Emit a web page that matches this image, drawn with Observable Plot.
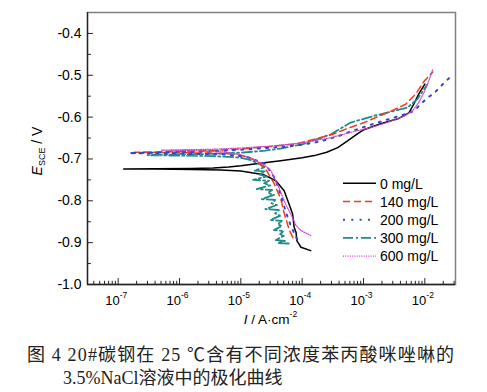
<!DOCTYPE html>
<html><head><meta charset="utf-8">
<script src="https://cdn.jsdelivr.net/npm/d3@7"></script>
<script src="https://cdn.jsdelivr.net/npm/@observablehq/plot@0.6"></script>
<style>
body{margin:0;background:#fff;}
#chart svg{display:block;}
#cap{font-family:"Liberation Serif","Noto Sans CJK SC",serif;font-size:18px;color:#222;line-height:23px;padding-top:8px;}
#cap .l1{padding-left:27px;letter-spacing:1.15px;white-space:nowrap;}
#cap .l2{padding-left:63px;white-space:nowrap;}
</style></head><body>
<div id="chart"></div>
<div id="cap"><div class="l1">图 4 20#碳钢在 25 ℃含有不同浓度苯丙酸咪唑啉的</div><div class="l2">3.5%NaCl溶液中的极化曲线</div></div>
<script>
// ---- data: log10(I / A·cm^-2) and E_SCE / V ----
const seriesNames = ["0 mg/L", "140 mg/L", "200 mg/L", "300 mg/L", "600 mg/L"];

const logI_0 = [-3.86,-4.02,-4.087,-4.10,-4.131,-4.145,-4.157,-4.213,-4.294,-4.43,-4.62,-5.0,-5.33,-5.8,-6.4,-6.91,-6.4,-5.8,-5.45,-5.2,-5.0,-4.62,-4.35,-4.0,-3.8,-3.6,-3.42,-3.26,-3.1,-2.995,-2.72,-2.44,-2.26,-2.18,-2.10,-2.0];
const E_0    = [-0.919,-0.911,-0.895,-0.875,-0.863,-0.845,-0.831,-0.808,-0.776,-0.752,-0.738,-0.729,-0.7265,-0.725,-0.7242,-0.724,-0.7236,-0.7228,-0.7215,-0.719,-0.716,-0.709,-0.704,-0.697,-0.692,-0.684,-0.673,-0.657,-0.640,-0.630,-0.616,-0.604,-0.590,-0.569,-0.545,-0.521];

const logI_140 = [-4.15,-4.21,-4.29,-4.35,-4.46,-4.62,-4.85,-5.1,-5.5,-6.0,-6.74,-6.0,-5.5,-5.0,-4.5,-4.1,-3.8,-3.5,-3.26,-2.99,-2.75,-2.555,-2.31,-2.15,-2.01,-1.87];
const E_140    = [-0.888,-0.870,-0.831,-0.795,-0.758,-0.718,-0.697,-0.688,-0.686,-0.685,-0.684,-0.682,-0.680,-0.676,-0.670,-0.664,-0.653,-0.641,-0.627,-0.613,-0.598,-0.586,-0.569,-0.545,-0.514,-0.492];

const logI_200 = [-4.08,-4.18,-4.27,-4.35,-4.45,-4.6,-4.9,-5.3,-6.0,-6.82,-6.0,-5.5,-5.0,-4.5,-4.0,-3.7,-3.4,-3.26,-3.0,-2.77,-2.5,-2.3,-2.175,-2.07,-1.95,-1.85,-1.74,-1.55];
const E_200    = [-0.892,-0.862,-0.825,-0.785,-0.745,-0.712,-0.695,-0.689,-0.687,-0.686,-0.684,-0.682,-0.678,-0.673,-0.666,-0.658,-0.645,-0.637,-0.624,-0.613,-0.601,-0.592,-0.585,-0.569,-0.553,-0.543,-0.526,-0.499];

const logI_300 = [-4.22,-4.40,-4.28,-4.44,-4.30,-4.36,-4.30,-4.46,-4.33,-4.40,-4.33,-4.52,-4.36,-4.44,-4.38,-4.60,-4.41,-4.50,-4.44,-4.66,-4.46,-4.56,-4.49,-4.74,-4.52,-4.62,-4.54,-4.80,-4.58,-4.70,-4.60,-4.78,-4.62,-4.70,-4.85,-5.0,-5.2,-5.5,-6.0,-6.52,-6.0,-5.5,-5.0,-4.6,-4.35,-4.0,-3.8,-3.53,-3.21,-2.83,-2.5,-2.28,-2.12,-1.96];
const E_300    = [-0.902,-0.901,-0.896,-0.894,-0.884,-0.880,-0.872,-0.870,-0.860,-0.856,-0.848,-0.846,-0.836,-0.830,-0.822,-0.820,-0.810,-0.806,-0.798,-0.796,-0.786,-0.781,-0.774,-0.772,-0.763,-0.758,-0.752,-0.750,-0.742,-0.737,-0.730,-0.728,-0.720,-0.712,-0.702,-0.697,-0.695,-0.693,-0.692,-0.691,-0.689,-0.688,-0.685,-0.680,-0.675,-0.665,-0.655,-0.641,-0.613,-0.597,-0.585,-0.577,-0.557,-0.522];

const logI_600 = [-3.86,-4.02,-4.10,-4.157,-4.27,-4.38,-4.51,-4.62,-4.8,-5.0,-5.3,-5.8,-6.30,-6.0,-5.5,-5.0,-4.5,-4.02,-3.53,-3.2,-2.88,-2.6,-2.34,-2.2,-2.1,-2.01,-1.94,-1.875];
const E_600    = [-0.883,-0.871,-0.859,-0.840,-0.808,-0.768,-0.728,-0.714,-0.700,-0.690,-0.683,-0.680,-0.679,-0.678,-0.677,-0.674,-0.669,-0.662,-0.649,-0.636,-0.625,-0.612,-0.598,-0.585,-0.565,-0.540,-0.515,-0.487];

const yMajor = [-1.0,-0.9,-0.8,-0.7,-0.6,-0.5,-0.4];
const yMinor = [-0.95,-0.85,-0.75,-0.65,-0.55,-0.45];
const xMajorExp = [-7,-6,-5,-4,-3,-2];
const xDomainExp = [-7.5,-1.5];

// ---- build ----
const toRows = (lx, ey) => lx.map((v, i) => ({I: 10 ** v, E: ey[i]}));
const xMajor = xMajorExp.map(e => 10 ** e);
const xMinor = [];
for (let d = -8; d <= -2; d++) for (let k = 2; k <= 9; k++) {
  const v = k * 10 ** d;
  if (v > 10 ** xDomainExp[0] && v < 10 ** xDomainExp[1]) xMinor.push(v);
}

const styles = [
  {stroke: "#000000", strokeWidth: 1.5, strokeDasharray: null},
  {stroke: "#f23a1d", strokeWidth: 1.5, strokeDasharray: "7,4"},
  {stroke: "#3344cc", strokeWidth: 2, strokeDasharray: "2,6.3"},
  {stroke: "#1f8b8b", strokeWidth: 1.8, strokeDasharray: "10,3,2,3"},
  {stroke: "#cc44cc", strokeWidth: 1.2, strokeDasharray: "1,1.3"}
];
const datasets = [toRows(logI_0, E_0), toRows(logI_140, E_140), toRows(logI_200, E_200), toRows(logI_300, E_300), toRows(logI_600, E_600)];
const drawOrder = [0, 3, 1, 2, 4];

const tickShape = {draw(ctx, l) { ctx.moveTo(0, 0); ctx.lineTo(0, -l); }};
const tickColor = "#222";

const chart = Plot.plot({
  width: 487, height: 336,
  marginLeft: 87, marginRight: 32, marginTop: 12, marginBottom: 52,
  x: {type: "log", domain: [10 ** xDomainExp[0], 10 ** xDomainExp[1]], axis: null},
  y: {domain: [-1.0, -0.35], axis: null},
  style: {fontFamily: "'Liberation Sans', Arial, sans-serif", fontSize: "14px", background: "white", color: "#000"},
  marks: [
    Plot.frame({stroke: "#808080", strokeWidth: 1.5}),
    Plot.ruleX([10 ** xDomainExp[0]], {stroke: tickColor, strokeWidth: 1.3}),
    Plot.ruleY([-1.0], {stroke: tickColor, strokeWidth: 1.3}),
    // inward ticks
    Plot.vector(yMajor, {y: d => d, frameAnchor: "left", length: 5, rotate: 90, anchor: "start", shape: tickShape, stroke: tickColor, strokeWidth: 1}),
    Plot.vector(yMinor, {y: d => d, frameAnchor: "left", length: 3, rotate: 90, anchor: "start", shape: tickShape, stroke: tickColor, strokeWidth: 1}),
    Plot.vector(xMajor, {x: d => d, frameAnchor: "bottom", length: 6, rotate: 0, anchor: "start", shape: tickShape, stroke: tickColor, strokeWidth: 1}),
    Plot.vector(xMinor, {x: d => d, frameAnchor: "bottom", length: 3.3, rotate: 0, anchor: "start", shape: tickShape, stroke: tickColor, strokeWidth: 1}),
    // tick labels
    Plot.text(yMajor, {y: d => d, frameAnchor: "left", text: d => d.toFixed(1), textAnchor: "end", dx: -6, fontSize: 14, fill: "#000"}),
    Plot.text(xMajor, {x: d => d, frameAnchor: "bottom", text: () => "10", textAnchor: "end", lineAnchor: "bottom", dx: 1.5, dy: 20.3, fontSize: 13, fill: "#000"}),
    Plot.text(xMajorExp, {x: d => 10 ** d, frameAnchor: "bottom", text: d => String(d), textAnchor: "start", lineAnchor: "bottom", dx: 1.5, dy: 13, fontSize: 8.5, fill: "#000"}),
    // curves
    ...drawOrder.map(i => Plot.line(datasets[i], {x: "I", y: "E", ...styles[i], strokeLinejoin: "round"}))
  ]
});
document.getElementById("chart").appendChild(chart);

// axis titles and legend
const svg = d3.select(chart);
const xt = svg.append("text").attr("x", 270.5).attr("y", 323.5).attr("text-anchor", "middle").attr("font-size", 13.5).attr("fill", "#000");
xt.append("tspan").attr("font-style", "italic").text("I");
xt.append("tspan").text(" / A·cm");
xt.append("tspan").attr("font-size", 8.5).attr("dy", -7).text("-2");

const yt = svg.append("text").attr("transform", "translate(42,151) rotate(-90)").attr("text-anchor", "middle").attr("font-size", 14).attr("fill", "#000");
yt.append("tspan").attr("font-style", "italic").text("E");
yt.append("tspan").attr("font-size", 9).attr("dy", 3).text("SCE");
yt.append("tspan").attr("dy", -3).text(" / V");

const legY0 = 183.3, legStep = 18.2;
seriesNames.forEach((name, i) => {
  const y = legY0 + i * legStep;
  const s = styles[i];
  svg.append("line").attr("x1", 343).attr("x2", 376).attr("y1", y).attr("y2", y)
    .attr("stroke", s.stroke).attr("stroke-width", s.strokeWidth)
    .attr("stroke-dasharray", s.strokeDasharray);
  svg.append("text").attr("x", 380).attr("y", y + 5.2).attr("text-anchor", "start")
    .attr("font-size", 14).attr("fill", "#000").text(name);
});
</script>
</body></html>
